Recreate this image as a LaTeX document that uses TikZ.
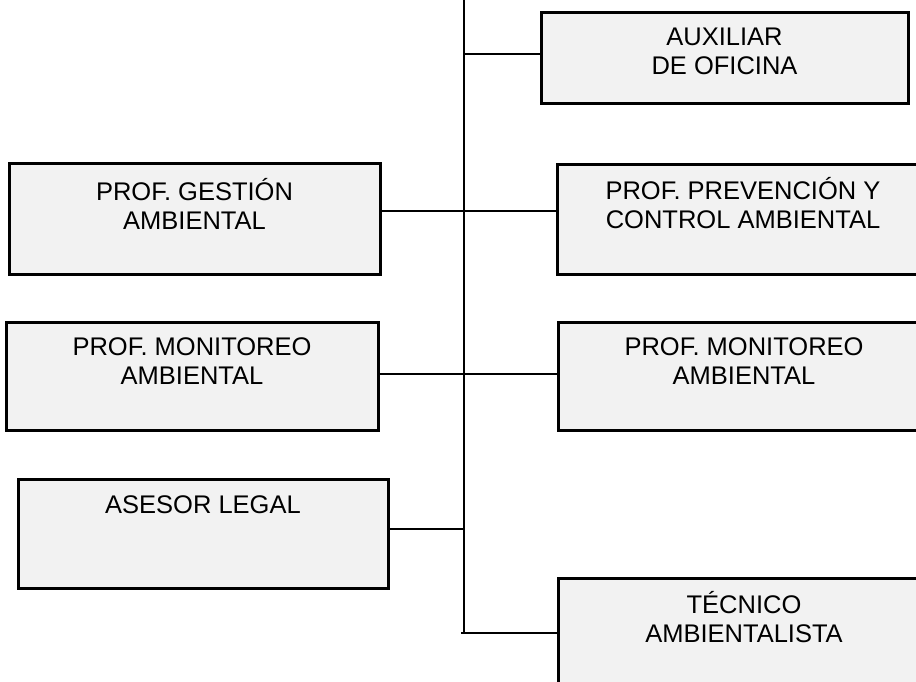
\documentclass[tikz,border=0pt]{standalone}
\usepackage{fontspec}
\setmainfont{Liberation Sans}
\definecolor{boxfill}{HTML}{F2F2F2}
\begin{document}
\begin{tikzpicture}[x=1pt,y=-1pt,
  orgbox/.style={draw=black, line width=3pt, fill=boxfill, rectangle, inner sep=0pt},
  boxtext/.style={anchor=base, align=center, inner sep=0pt, font=\fontsize{25.5}{29}\selectfont},
  conn/.style={draw=black, line width=2pt}]
\useasboundingbox (0,0) rectangle (916,682);
% boxes
\node[orgbox, minimum width=367pt, minimum height=91pt] (aux) at (724.5,58.5) {};
\node[orgbox, minimum width=371pt, minimum height=110pt] (ges) at (194.5,219) {};
\node[orgbox, minimum width=372pt, minimum height=109pt] (pre) at (743,219.5) {};
\node[orgbox, minimum width=372pt, minimum height=108pt] (monl) at (192,376) {};
\node[orgbox, minimum width=372pt, minimum height=108pt] (monr) at (744,376) {};
\node[orgbox, minimum width=370pt, minimum height=109pt] (ase) at (203,533.5) {};
\node[orgbox, minimum width=372pt, minimum height=110pt] (tec) at (744,633) {};
% texts (base anchor = baseline of last line)
\node[boxtext] (taux) at ([yshift=-63pt]aux.north) {AUXILIAR\\DE OFICINA};
\node[boxtext] (tges) at ([yshift=-67pt]ges.north) {PROF. GESTIÓN\\AMBIENTAL};
\node[boxtext] (tpre) at ([yshift=-65pt]pre.north) {PROF. PREVENCIÓN Y\\CONTROL AMBIENTAL};
\node[boxtext] (tmonl) at ([yshift=-64pt]monl.north) {PROF. MONITOREO\\AMBIENTAL};
\node[boxtext] (tmonr) at ([yshift=-64pt]monr.north) {PROF. MONITOREO\\AMBIENTAL};
\node[boxtext] (tase) at ([yshift=-36pt]ase.north) {ASESOR LEGAL};
\node[boxtext] (ttec) at ([yshift=-66pt]tec.north) {TÉCNICO\\AMBIENTALISTA};
% spine
\coordinate (top) at (464,-5);
\coordinate (bot) at (464,633);
\coordinate (botl) at (461,633);
\coordinate (jaux) at (464,54);
\coordinate (jges) at (464,211);
\coordinate (jmon) at (464,374);
\coordinate (jase) at (464,529);
\draw[conn] (top) -- (bot);
\draw[conn] (jaux) -- (aux.west |- jaux);
\draw[conn] (ges.east |- jges) -- (pre.west |- jges);
\draw[conn] (monl.east |- jmon) -- (monr.west |- jmon);
\draw[conn] (ase.east |- jase) -- (jase);
\draw[conn] (botl) -- (tec.west |- botl);
\end{tikzpicture}
\end{document}
